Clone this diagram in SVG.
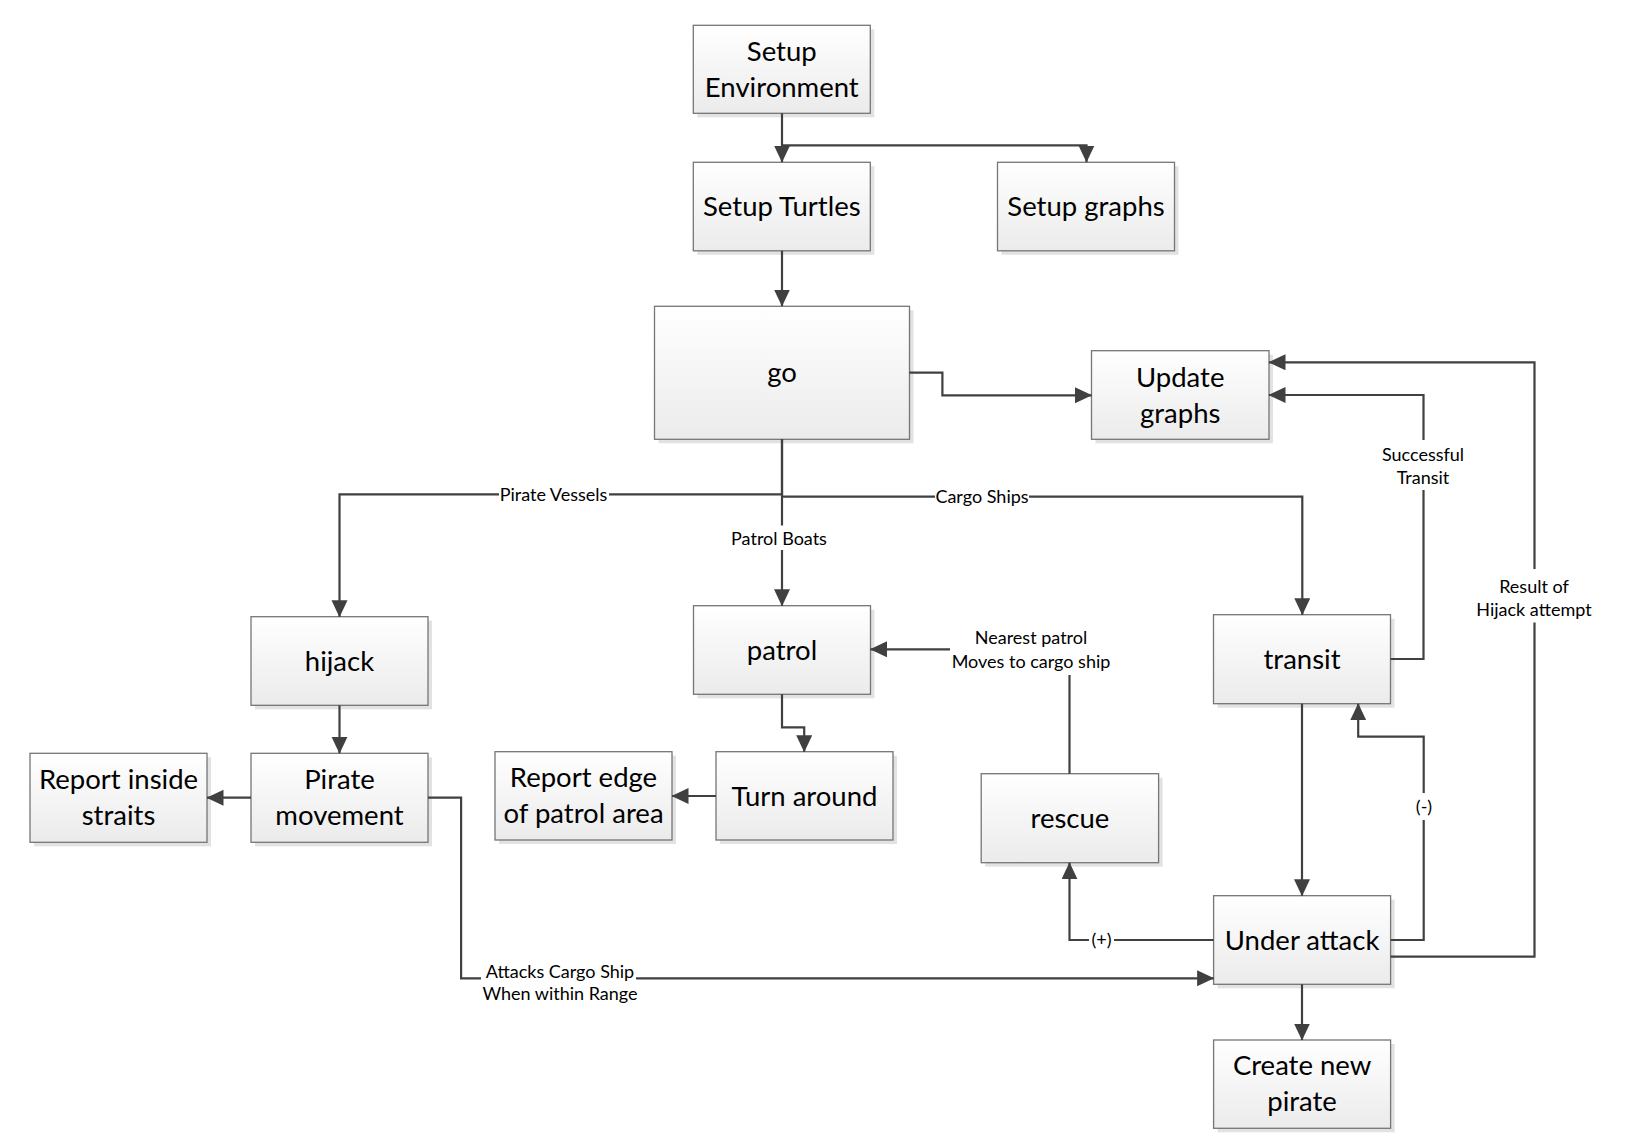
<svg xmlns="http://www.w3.org/2000/svg" width="1628" height="1148" viewBox="0 0 1628 1148">
<defs>
<linearGradient id="fill" x1="0" y1="0" x2="0" y2="1">
<stop offset="0" stop-color="#ffffff"/>
<stop offset="1" stop-color="#ebebeb"/>
</linearGradient>
<marker id="arr" markerUnits="userSpaceOnUse" markerWidth="18" markerHeight="18" refX="16.5" refY="8" orient="auto">
<path d="M0,0 L17,8 L0,16 z" fill="#404040"/>
</marker>
</defs>
<style>
.shadow{fill:#e2e2e2}
.box{fill:url(#fill);stroke:#767676;stroke-width:1.3}
.nt{font-family:Lato,"Open Sans",sans-serif;font-size:27.5px;fill:#000;text-anchor:middle}
.lt{font-family:Lato,"Open Sans",sans-serif;font-size:18px;fill:#000;text-anchor:middle}
.c{fill:none;stroke:#404040;stroke-width:2.2}
.a{marker-end:url(#arr)}
.bg{fill:#fff}
</style>
<rect width="1628" height="1148" fill="#fff"/>

<g id="setup-environment">
<rect class="shadow" x="697.3" y="29.3" width="177" height="88"/>
<rect class="box" x="693.3" y="25.3" width="177" height="88"/>
<text class="nt" x="781.8" y="60.5">Setup</text>
<text class="nt" x="781.8" y="96.5">Environment</text>
</g>
<g id="setup-turtles">
<rect class="shadow" x="697.3" y="166.3" width="177" height="88.5"/>
<rect class="box" x="693.3" y="162.3" width="177" height="88.5"/>
<text class="nt" x="781.8" y="216">Setup Turtles</text>
</g>
<g id="setup-graphs">
<rect class="shadow" x="1001.5" y="166.3" width="177" height="88.5"/>
<rect class="box" x="997.5" y="162.3" width="177" height="88.5"/>
<text class="nt" x="1086" y="216">Setup graphs</text>
</g>
<g id="go">
<rect class="shadow" x="658.5" y="310.3" width="255" height="133"/>
<rect class="box" x="654.5" y="306.3" width="255" height="133"/>
<text class="nt" x="782" y="382">go</text>
</g>
<g id="update-graphs">
<rect class="shadow" x="1095.5" y="354.7" width="177.5" height="88.6"/>
<rect class="box" x="1091.5" y="350.7" width="177.5" height="88.6"/>
<text class="nt" x="1180.2" y="386.5">Update</text>
<text class="nt" x="1180.2" y="422.5">graphs</text>
</g>
<g id="hijack">
<rect class="shadow" x="255" y="620.7" width="177" height="88.6"/>
<rect class="box" x="251" y="616.7" width="177" height="88.6"/>
<text class="nt" x="339.5" y="670.5">hijack</text>
</g>
<g id="pirate-movement">
<rect class="shadow" x="255" y="757.3" width="177" height="89"/>
<rect class="box" x="251" y="753.3" width="177" height="89"/>
<text class="nt" x="339.5" y="789">Pirate</text>
<text class="nt" x="339.5" y="825">movement</text>
</g>
<g id="report-inside-straits">
<rect class="shadow" x="34" y="757.3" width="177" height="89"/>
<rect class="box" x="30" y="753.3" width="177" height="89"/>
<text class="nt" x="118.5" y="789">Report inside</text>
<text class="nt" x="118.5" y="825">straits</text>
</g>
<g id="patrol">
<rect class="shadow" x="697.5" y="609.7" width="177" height="88.6"/>
<rect class="box" x="693.5" y="605.7" width="177" height="88.6"/>
<text class="nt" x="782" y="659.5">patrol</text>
</g>
<g id="turn-around">
<rect class="shadow" x="720" y="755.7" width="177" height="88.3"/>
<rect class="box" x="716" y="751.7" width="177" height="88.3"/>
<text class="nt" x="804.5" y="805.5">Turn around</text>
</g>
<g id="report-edge">
<rect class="shadow" x="499" y="755.7" width="177" height="88.3"/>
<rect class="box" x="495" y="751.7" width="177" height="88.3"/>
<text class="nt" x="583.5" y="787">Report edge</text>
<text class="nt" x="583.5" y="823">of patrol area</text>
</g>
<g id="transit">
<rect class="shadow" x="1217.5" y="618.7" width="177" height="89"/>
<rect class="box" x="1213.5" y="614.7" width="177" height="89"/>
<text class="nt" x="1302" y="668.7">transit</text>
</g>
<g id="rescue">
<rect class="shadow" x="985.2" y="777.7" width="177.4" height="89"/>
<rect class="box" x="981.2" y="773.7" width="177.4" height="89"/>
<text class="nt" x="1069.9" y="827.7">rescue</text>
</g>
<g id="under-attack">
<rect class="shadow" x="1217.6" y="899.7" width="177" height="88.6"/>
<rect class="box" x="1213.6" y="895.7" width="177" height="88.6"/>
<text class="nt" x="1302.1" y="949.5">Under attack</text>
</g>
<g id="create-new-pirate">
<rect class="shadow" x="1217.6" y="1044" width="177" height="88.3"/>
<rect class="box" x="1213.6" y="1040" width="177" height="88.3"/>
<text class="nt" x="1302.1" y="1075">Create new</text>
<text class="nt" x="1302.1" y="1111">pirate</text>
</g>

<g id="connectors">
<path class="c a" d="M782,113.3 V162"/>
<path class="c a" d="M782,145.3 H1086.5 V162"/>
<path class="c a" d="M782,250.8 V306"/>
<path class="c a" d="M909.4,372.7 H942.4 V395.3 H1091.5"/>
<path class="c a" d="M782,439.3 V494.3 H339.5 V616.7"/>
<path class="c a" d="M782,439.3 V605.7"/>
<path class="c a" d="M782,496.7 H1302.3 V614.7"/>
<path class="c a" d="M1390.5,659 H1423.5 V395 H1269"/>
<path class="c a" d="M1390.6,956.7 H1534.5 V362.3 H1269"/>
<path class="c a" d="M1302,703.7 V895.7"/>
<path class="c a" d="M1390.6,940 H1423.7 V736.7 H1358.2 V703.7"/>
<path class="c a" d="M1213.6,940 H1069.5 V862.7"/>
<path class="c a" d="M1069.5,773.7 V649.3 H870.5"/>
<path class="c a" d="M782,694.3 V727.3 H804.2 V751.7"/>
<path class="c a" d="M716,796 H672"/>
<path class="c a" d="M339.5,705.3 V753.3"/>
<path class="c a" d="M251,797.7 H207"/>
<path class="c a" d="M428,797.7 H461.1 V978.3 H1213.6"/>
<path class="c a" d="M1302,984.3 V1040"/>

<rect class="bg" x="499" y="484" width="110" height="22"/>
<text class="lt" x="553.5" y="500.5">Pirate Vessels</text>
<rect class="bg" x="935" y="486" width="94" height="22"/>
<text class="lt" x="982" y="503">Cargo Ships</text>
<rect class="bg" x="728" y="525.5" width="102" height="24.5"/>
<text class="lt" x="779" y="544.5">Patrol Boats</text>
<rect class="bg" x="1378" y="440" width="90" height="50"/>
<text class="lt" x="1423" y="460.5">Successful</text>
<text class="lt" x="1423" y="484">Transit</text>
<rect class="bg" x="1472" y="569" width="124" height="53.5"/>
<text class="lt" x="1534" y="593">Result of</text>
<text class="lt" x="1534" y="616">Hijack attempt</text>
<rect class="bg" x="950" y="626" width="163" height="49"/>
<text class="lt" x="1031" y="644">Nearest patrol</text>
<text class="lt" x="1031" y="668">Moves to cargo ship</text>
<rect class="bg" x="1414" y="793" width="20" height="27"/>
<text class="lt" x="1424" y="813">(-)</text>
<rect class="bg" x="1089" y="928" width="25" height="24"/>
<text class="lt" x="1101.5" y="946">(+)</text>
<rect class="bg" x="481" y="960" width="155" height="44"/>
<text class="lt" x="560" y="978">Attacks Cargo Ship</text>
<text class="lt" x="560" y="1000">When within Range</text>
</g>
</svg>
